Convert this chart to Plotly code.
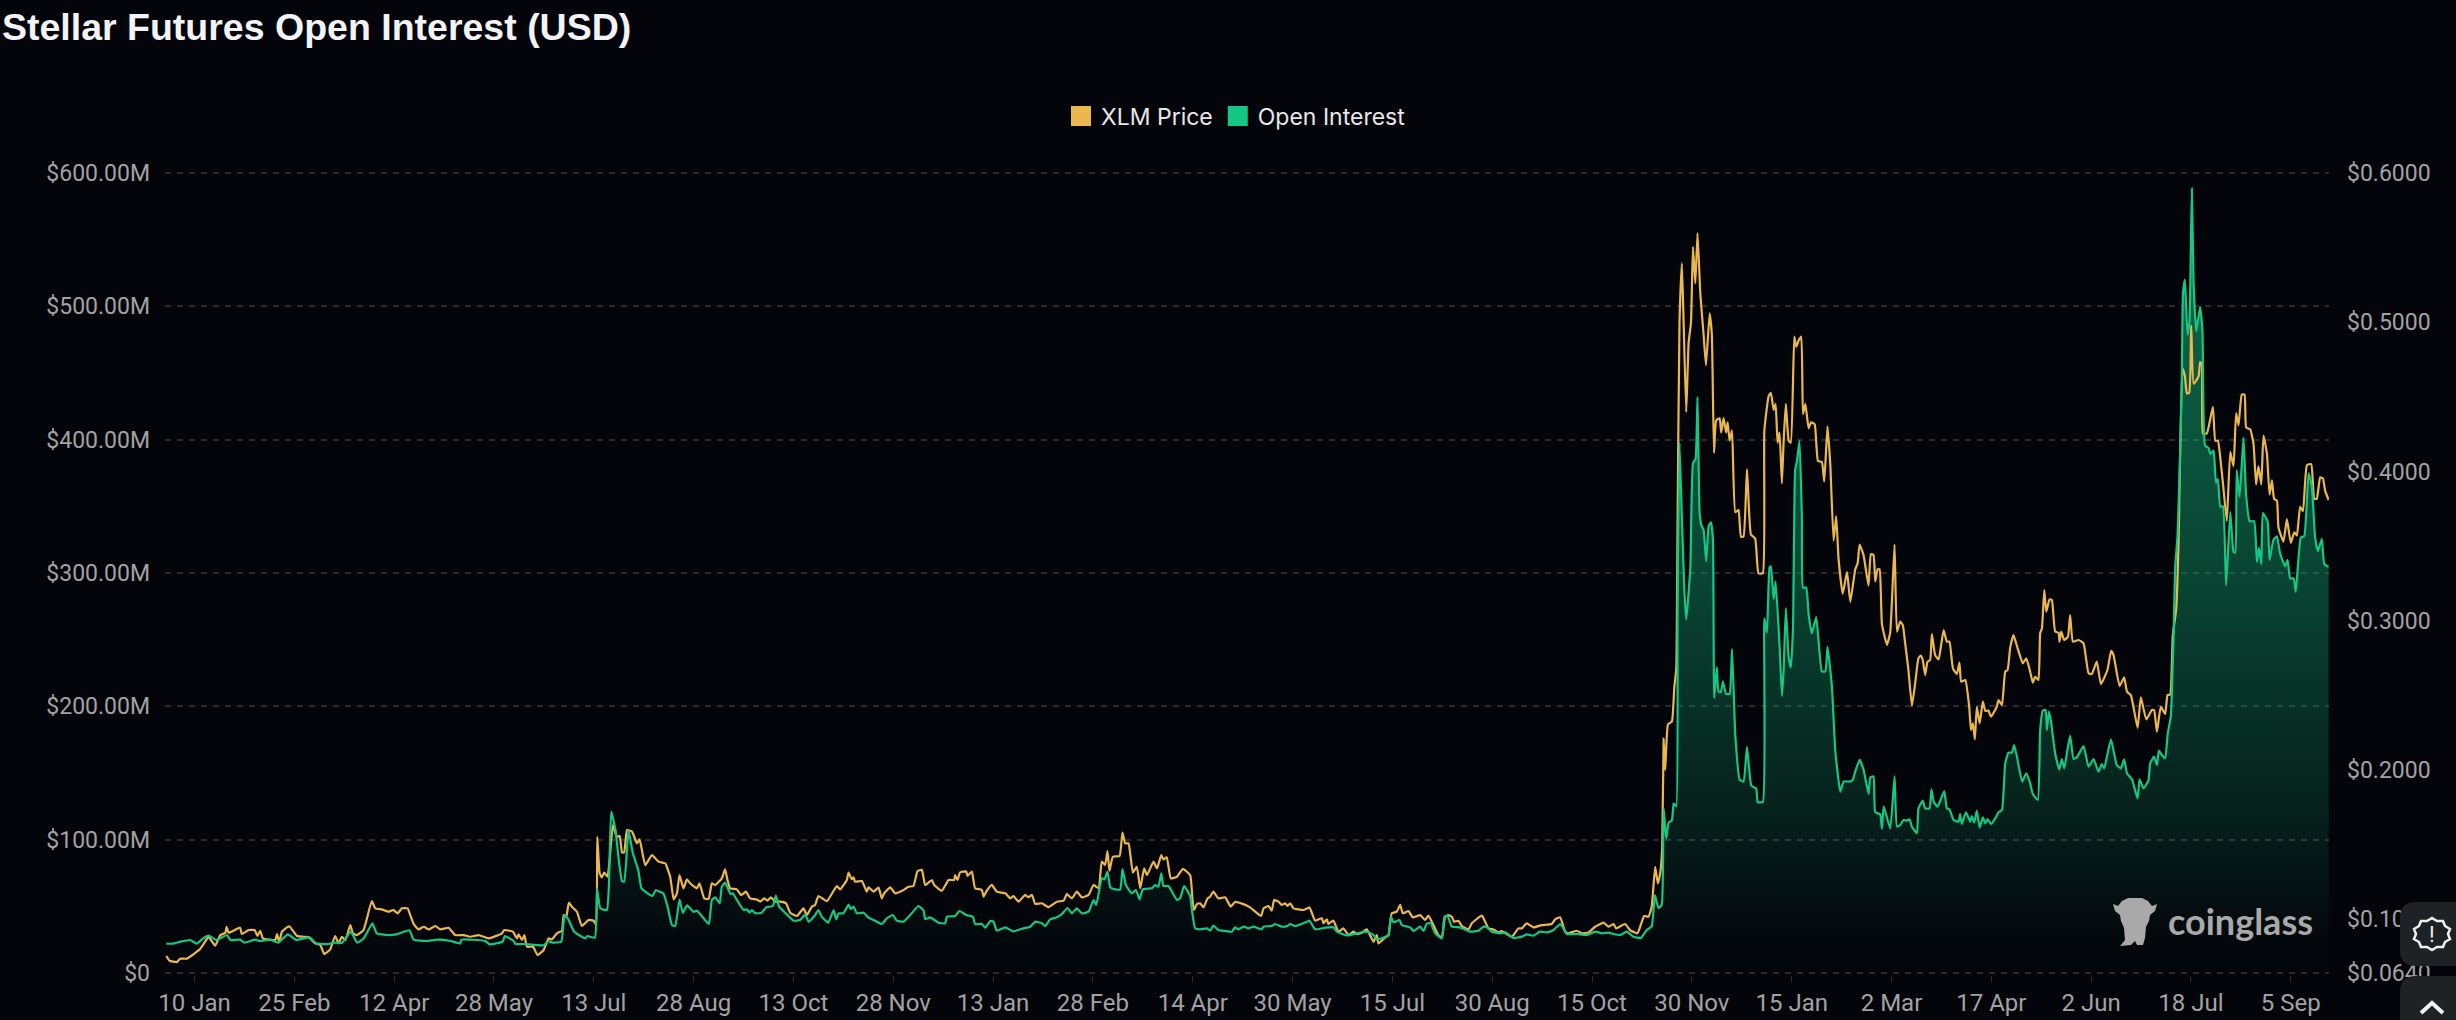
import plotly.graph_objects as go

title_text = "Stellar Futures Open Interest (USD)"
tick_labels = ["10 Jan","25 Feb","12 Apr","28 May","13 Jul","28 Aug","13 Oct","28 Nov","13 Jan","28 Feb","14 Apr",
               "30 May","15 Jul","30 Aug","15 Oct","30 Nov","15 Jan","2 Mar","17 Apr","2 Jun","18 Jul","5 Sep"]
tick_days = [14,60,106,152,198,244,290,336,382,428,474,520,566,612,658,704,750,796,842,888,934,980]
oi_ticks = [0,100,200,300,400,500,600]
oi_tick_text = ["$0","$100.00M","$200.00M","$300.00M","$400.00M","$500.00M","$600.00M"]
price_ticks = [0.064,0.1,0.2,0.3,0.4,0.5,0.6]
price_tick_text = ["$0.0640","$0.1000","$0.2000","$0.3000","$0.4000","$0.5000","$0.6000"]

# (day index, open interest in $M)
oi_points = [(1,22),(4,22),(7.5,23.5),(12,24.75),(15,22),(18,26),(20.5,28),(24,24.75),(29,28.5),(30.5,24.75),(35,25),(37,22.75),(42,25),(44,24),(49,25),(52.5,22.75),(57,29),(61,24.75),(67,26.75),(70,22.25),(76,21.75),(78,22.75),(82,22.75),(86,31),(89,22.75),(92,26),(96,37.25),(98,29.75),(103,28.5),(107,29),(113,32),(115,25),(121,24),(126,25),(132,24),(136.5,22.25),(137,25),(148,24),(150,21.5),(156,23.5),(157,27.75),(161,24),(162,21.75),(166,21.75),(175,20.75),(177,24),(179,22.75),(183,23.5),(184.5,43.5),(186,41),(189,31),(194,26),(195,27.75),(198.5,26.5),(199.5,63.5),(201,48.5),(204,47.25),(205,67.25),(206,121),(208,107.25),(209.5,84.75),(211,69),(212,68.5),(214,106.75),(216,89.75),(218.5,77.25),(220,63.5),(225,57.75),(226.5,62),(230,59.75),(232,49.75),(234,36),(235.5,35.25),(237.5,55),
(239,45.25),(241,50.75),(244,45.75),(245.5,46.75),(248,42.25),(251,36.75),(252.4,54.75),(254,56.75),(256,52.25),(257,64.75),(258.5,67.75),(261,59.25),(262,59.75),(264.7,52.75),(267,47.25),(268.5,47.75),(269.8,45.25),(270.8,47.25),(272.4,44.75),(275.4,45.25),(277.4,49.25),(280.5,50.25),(281.9,58),(283.4,49.75),(287.7,42.75),(290,39.25),(293,39.75),(295.4,43.75),(297,38.5),(300,43.5),(301.5,47.25),(303,42.25),(306,37.75),(308.5,47.25),(309.7,40.25),(310.8,44.75),(313,44.75),(315.4,51.25),(316.4,48),(317.7,49.75),(319.2,44.75),(322.3,45.25),(324.6,41.5),(326.9,39.75),(330.7,36.75),(333,41),(335.8,43.5),(337.6,39.25),(340.7,38.5),(343.8,43.5),(347.6,50.25),(350,46.75),(350.7,40.5),(353,41.75),(356.8,37.75),(359.9,37.25),(360.7,42.25),(364.5,42.75),(366.5,46.5),(369.6,43.5),(372.7,42.25),(373.7,36.75),(376.8,36.75),(378.4,34),(380.7,39),(382.2,38.5),(383.7,31.75),(387.6,34.25),(391.4,31.25),(396,33.5),(399.1,34.75),(401.4,38.5),(404.5,37.25),(406,35.25),(408.3,40.25),(411.4,41.75),(413.7,44.25),(416.3,48.75),(418.3,44.75),(420.6,48.5),(422.9,44.75),(426,46),(428.3,54.75),(429.5,51),(432.1,71),(433.3,70.25),(434.7,76),(436,64.25),(438.3,62.75),(440.6,62.75),(441.6,78),(443.2,66),(445.9,59.75),(447.8,62.25),(449.5,55.25),(451,62.75),(455.2,63.5),(456.7,66),(458.2,64.75),(459.5,74.75),(460.5,65.25),(462.8,65.25),(466.7,54.75),(468.2,56),(470,65.25),(472.8,57.75),(473.6,47.25),(475.1,33.5),
(477.4,32.75),(480.5,33.5),(482,31.75),(483.5,35.5),(485.8,32.25),(488.9,31.5),(492,31),(493.5,34.25),(495,32.75),(497.4,34.75),(499.7,33.5),(502,34.75),(505.8,32.75),(506.6,34.75),(510.4,35.25),(512,36.75),(515,34.75),(517.6,35.25),(518.9,36.75),(521.2,35.25),(526.6,38.5),(527.8,39.25),(530.4,32.75),(535,34),(538.8,34.25),(540.4,31),(545,28.25),(549.6,29.75),(554.2,31),(557.3,28.5),(558.8,25.25),(561.1,26),(564.2,28.5),(565.3,42.25),(566.5,38),(569.3,39.75),(570.3,36),(574.2,34.25),(575.7,31.5),(578.8,34.75),(580.3,31.5),(581.9,37.25),(583.7,37.25),(585.7,29.75),(588.8,26),(590,42.25),(591.4,43),(593.4,34.75),(597.2,34.25),(601.8,31),(605.7,31.75),(608,34.75),(609.5,34.25),(611.8,31),(615.6,29.75),(618,30.5),(621.8,26.25),(625.6,27.25),(627.9,29),(631,28),(634,31),(637.2,30.5),(640.2,32.25),(643.3,36.75),(644.8,33.5),(646.4,29.25),(651,29.25),(655.6,28.5),(659.4,31),(662.5,29.75),(665.6,30.25),(667.9,29.25),(671,28.5),(674,31),(677.1,27.25),(680.5,26.25),(683.2,32.25),(685.5,35),(687,58.5),(688.6,48.75),(690.1,51),
(691,123.7),(692.2,100.7),(693.3,112.9),(694.8,114.5),(695.6,127.3),(696.8,125),(697.4,273.6),(698.3,397.6),(699.4,341),(700.5,289),(701.4,265),(703.3,304.2),(704.5,382.3),(705.7,385.4),(706.6,431.9),(707.6,344),(708.6,334.9),(709.4,332.4),(710.6,308.8),(711.7,334.9),(712.8,338),(713.7,325.7),(714.3,206.3),(715.5,229.2),(716.3,210.9),(717.4,210.9),(718.3,218.5),(719.8,209.3),(721.4,209.3),(722.5,243),(724,178.8),(726,145.1),(727.8,143.6),(729.4,169.5),(731.4,140.5),(733.7,138.3),(734.3,128.2),(736.7,128.2),(737.4,266),(738.6,255.3),(739.8,304.3),(740.4,304.9),(741.7,280.4),(742.6,293.5),(744.4,246),(745.5,207.8),(746.3,227.7),(747.3,273.6),(748.6,237),(749.6,229.2),(750.6,258.4),(751.6,377.7),(752.4,383.8),(753.6,399.2),(754.7,341),(755.2,289),(756.7,289),(757.8,269),(759.3,254.7),(761.3,267),(763.9,226.2),(765.5,226.2),(766.5,244.6),(768.5,215.5),(770.1,166.5),(772.4,135.9),(773.9,143.6),(777,143.6),(778.2,145.1),(779.3,151.2),(781.3,159.8),(783.1,152.7),(785.4,134.4),(786.2,146.6),(787.7,147.5),(788.5,120.6),(790.8,119),(791.6,108.3),(792.4,125),(795.4,108.3),(797.4,147.5),(798.5,109.9),
(800,111),(801.5,114.75),(803,114.25),(804.3,115.25),(805.4,109.75),(807.7,104.75),(808.4,123.5),(810.4,129.25),(811.5,123.5),(813.5,123.5),(814.4,137.75),(815.4,128.5),(817.2,124.75),(820.3,136.5),(821.5,123.5),(822.7,122.75),(824.6,114.75),(826.9,113.5),(827.6,119.25),(828.4,111.75),(830.3,120.5),(832.3,113.5),(833,117.75),(834.1,112.75),(835.3,121.75),(836.6,109),(838.1,116.75),(839.2,112.25),(840.2,115.5),(841.8,111.75),(843.8,116),(845.3,120.5),(846.9,122.25),(848.4,157.25),(849.9,165.25),(851.5,165.25),(852.5,171),(853.8,162.25),(856.2,143.5),(858.1,149.75),(859.9,142.25),(861.1,134.25),(863.4,129.75),(864.5,182.25),(865.7,196.75),(867,197.25),(867.6,182.25),(868.5,196),(869.4,189.75),(871.4,164.75),(873.3,152.75),(874.5,160.5),(875.6,153.5),(876.8,164.75),(878.3,178),(879.9,160.5),(881.4,161.75),(884.5,170.25),(886.8,154.75),(889.1,160.5),(891.4,151),(892.9,156.75),(894,153.5),(897.1,175.25),(899.8,156),(901.7,153.5),(903.2,160.25),(904.5,149.75),(906.8,145.25),(909.4,131),(910.3,145.25),(912.1,138.5),(914.4,144.25),(915.2,157.25),(917,162.25),(918.3,156),(919.2,166.75),(920.6,163.5),(922.1,161),(923.3,179.75),(924.7,192.25),(926,253.5),
(926.7,303.6),(927.8,328.1),(929,389.3),(929.8,450.6),(930.3,508.7),(931.2,520),(932.4,478.8),(933.3,488.8),(934.4,588.3),(935.2,517.9),(936.4,481.2),(938.2,499.6),(939.3,481.2),(940.5,395.5),(942.1,393.9),(942.9,389.3),(944.4,391.8),(945.5,367.9),(946.4,370.4),(947.5,349.6),(948.7,350.2),(950.2,290.8),(952.1,345.9),(953.6,315.9),(954.4,315.3),(955.1,377.1),(956.4,357.2),(958.2,401.6),(959.4,358.7),(961,338.8),(963.1,338.8),(964.4,308.2),(965.3,318.9),(966.4,306.7),(967.1,344.9),(969.3,338.8),(970.2,309.8),(972,325),(973.6,327.5),(975.1,314.4),(977.4,305.2),(978.5,309.8),(979.7,296),(981.3,296),(982.3,285.9),(984.6,326.6),(986.2,327.5),(988.2,374.7),(989.7,364.9),(991.2,326.6),(992.5,316.5),(994.3,325.7),(995.4,306.7),(997.4,304.6)]

# (day index, XLM price in $)
price_points = [(1,.0754),(2.5,.0722),(5.9,.0713),(7.4,.0736),(10.5,.0736),(13.6,.0767),(16.6,.0801),(18.9,.085),(20.5,.0883),(23.5,.0823),(25.9,.0894),(28.2,.091),(28.8,.095),(29.7,.091),(35,.0944),(35.8,.0901),(38.9,.0928),(41.7,.0928),(43,.0888),(44.3,.0923),(45.5,.0872),(51.2,.0861),(52,.0901),(53,.085),(54.3,.0917),(56.6,.0946),(57.8,.0952),(61.2,.0888),(64.3,.0883),(66.6,.0879),(69.6,.0839),(72,.0827),(73.8,.0767),(76.5,.0798),(78.8,.0888),(80.4,.0839),(81.9,.0883),(83.5,.0861),(85.8,.0961),(87,.0906),(88.8,.0894),(91.9,.0928),(95.7,.1122),(97.3,.1073),(100.3,.1066),(103.4,.1051),(105.7,.1062),(107.6,.104),(109.6,.1073),(112.2,.1073),(113.4,.1028),(115,.0968),(117.2,.0932),(119.6,.095),(121.9,.0932),(125,.0955),(127.2,.0932),(131.1,.0943),(134.1,.0894),(138,.0894),(141,.0883),(144.9,.0894),(149.5,.0872),(155.7,.0906),(156.7,.0928),(160.7,.0917),(162.6,.0872),(163.3,.0899),(164.9,.0861),(166,.0894),(167.2,.0816),(170,.0816),(172.1,.076),(174.9,.0794),(177.2,.0872),(178.7,.0865),(181,.0906),(183.3,.0923),(184.1,.1028),(185.3,.1017),(186.5,.1111),(187.9,.1084),(190.2,.1051),(192.5,.0955),(195.6,.0995),(197.9,.099),(199.1,.0961),(199.6,.1553),(200.7,.1308),(201.7,.1281),(202.8,.1312),(204.3,.1285),(205.3,.1397),(206.8,.1631),(208.6,.1553),(209.9,.1558),(211,.1448),(212,.1448),(213.3,.1598),(215.6,.1587),(217.9,.1509),(219.1,.1535),(221.7,.1363),(224.8,.143),(227.8,.1386),(230.9,.1375),(233.2,.1285),(234.8,.1133),(236.3,.1173),(237.5,.1296),
(239.3,.1207),(240.9,.1267),(242.4,.1241),(245.5,.1207),(246.7,.1241),(248.9,.114),(250.9,.1136),(252.4,.1241),(253.9,.1229),(257,.1274),(258.5,.1334),(259.6,.1263),(260.8,.1207),(263.9,.12),(265.9,.1162),(268.1,.1185),(270,.114),(273.1,.1133),(274.7,.1118),(276.5,.114),(278,.1125),(279.6,.1147),(281.6,.1118),(283.9,.1118),(286.6,.1107),(288.5,.1044),(291.6,.1022),(294.6,.1073),(296.2,.1029),(298.5,.1085),(300,.1096),(301.5,.1156),(305.4,.1122),(310,.1223),(311.5,.12),(314.6,.1263),(315.4,.1312),(316.9,.1268),(317.7,.1281),(318.4,.1252),(321.5,.1256),(323.8,.1185),(324.6,.1214),(326.9,.1185),(329.2,.1212),(330.7,.114),(331.8,.1174),(334.6,.1214),(336.9,.1174),(340.7,.1196),(343,.1218),(345.3,.1223),(347.2,.1323),(349.2,.133),(350.7,.1229),(353.8,.1263),(354.9,.1229),(358.4,.1191),(361.5,.1263),(364.1,.1263),(364.5,.1296),(365.6,.1263),(366.8,.1315),(369.6,.132),(370.2,.1291),(372.2,.132),(373.7,.1208),(376.8,.1197),(377.6,.1152),(379.1,.1192),(381.4,.123),(383.7,.1185),(387.6,.1174),(389.9,.114),(391.4,.1156),(393.7,.1118),(396.8,.1163),(398.3,.1147),(399.9,.1163),(401.4,.1103),(404.5,.1107),(407.5,.1081),(411.4,.1118),(414.5,.1125),(416,.1168),(418.3,.114),(420.6,.1185),(422.9,.1147),(426,.1163),(428.3,.123),(430.6,.1208),(432.1,.1386),(433.6,.1364),(434.7,.1457),(435.6,.1326),(437.2,.1419),(440.3,.1424),(441.6,.158),(442.9,.1509),(444.4,.1509),(446.4,.1313),(448.2,.1352),(449.8,.1207),(451.6,.1341),(452.9,.1296),(455.9,.1386),(457.5,.1341),(459.5,.143),(460.5,.1401),(462,.1415),(463.9,.1274),(466.7,.1285),(469.4,.1337),(472.8,.1296),(473.9,.1129),(474.6,.1062),(475.9,.1102),
(477.4,.1107),(479,.108),(480.8,.114),(482,.1151),(483.5,.1185),(485.8,.114),(488.9,.1147),(491.5,.1085),(493.5,.1116),(497,.1103),(500.4,.108),(505.5,.1022),(506.6,.1073),(508.9,.1089),(510.4,.1058),(511.5,.1129),(513.5,.1118),(515,.1096),(516.6,.1107),(517.6,.1089),(518.9,.1107),(520.4,.1073),(525,.1062),(527.8,.1078),(530.4,.0991),(533.5,.1007),(534.2,.0973),(535.8,.1),(536.5,.0969),(538.8,.0991),(541.1,.0917),(543.4,.0939),(545.8,.0894),(548,.0917),(549.6,.0901),(551.9,.091),(554.2,.0932),(557.3,.0849),(558.8,.0894),(559.6,.0838),(562.7,.0879),(564.2,.0894),(565.7,.104),(568,.1051),(569.6,.1096),(570.8,.104),(573.4,.1055),(575.4,.1013),(578.8,.1028),(581,.0995),(582.6,.1024),(584.9,.0961),(587.2,.0894),(588.8,.0877),(590.3,.1017),(591.8,.1028),(593.4,.1017),(594.4,.0984),(596.4,.099),(598,.0955),(601,.0932),(602.6,.0973),(607.2,.1024),(610.3,.0939),(612.6,.0932),(614.9,.0912),(616.4,.0921),(621,.0883),(624.1,.0939),(625.6,.0939),(627.9,.0973),(631,.0946),(634.8,.0961),(639.4,.0968),(641,.1),(643.3,.1013),(645.6,.0917),(647.1,.0906),(651,.0923),(653.3,.0906),(656.4,.0912),(659.4,.095),(663.3,.0977),(665.6,.095),(667.9,.0968),(669.1,.0939),(673.2,.0968),(675.5,.0928),(678.9,.0906),(682,.1022),(684,.1017),(685.5,.1084),(687.1,.1352),(688.3,.1241),(689.4,.1308),(690.3,.1464),
(691,.221),(691.7,.2),(693,.2306),(694.8,.2325),(695.9,.2552),(696.8,.2675),(697.4,.3632),(698.3,.5),(699.4,.5396),(700.2,.5),(701.4,.4398),(702.5,.4863),(703.6,.5),(704.5,.5506),(705.6,.526),(706.6,.5596),(707.9,.5191),(709.4,.4918),(710.5,.4713),(712.2,.506),(713.2,.4918),(714.2,.4125),(715.2,.4343),(716.8,.4357),(717.5,.4261),(718.6,.4357),(719.8,.4261),(720.5,.433),(721.4,.4207),(722.5,.4275),(724,.3728),(725.5,.3742),(726.6,.3564),(727.8,.3564),(729.4,.4015),(731.2,.3578),(733.2,.355),(734.7,.3318),(736.7,.3318),(737.4,.4275),(739.4,.4507),(740.4,.4527),(741.7,.4412),(742.6,.4453),(743.5,.4193),(744.4,.4261),(745.5,.392),(746.3,.4207),(747.3,.4453),(748.6,.4207),(749.6,.4193),(751.2,.4904),(752.1,.4836),(753.2,.4877),(754.4,.4904),(755.2,.4384),(756.3,.4453),(757.8,.4289),(758.9,.433),(760.6,.4316),(762.1,.407),(763.9,.4064),(765,.3933),(766.5,.4302),(767.8,.4043),(769.3,.3537),(770.5,.3701),(771.6,.3414),(773.5,.3181),(775.5,.3326),(777,.3127),(779.3,.3345),(780.4,.3386),(781.3,.351),(783.1,.3441),(785.4,.3236),(786.5,.3446),(787.7,.3441),(788.5,.3263),(789.6,.3345),(790.5,.3345),(791.6,.2976),(793.9,.2839),(795.4,.2921),(797.4,.351),(798.5,.2927),
(800,.2994),(801.2,.2971),(802.3,.2849),(803.8,.267),(805.4,.2429),(806.9,.2581),(808.4,.2748),(809.5,.2766),(810.4,.2737),(811.5,.2636),(812.6,.2726),(813.8,.2737),(814.6,.2911),(816.1,.277),(817.7,.2741),(820,.2938),(821.5,.286),(822.7,.286),(824.3,.2681),(826.1,.2643),(827.3,.2719),(828.1,.2592),(830,.2603),(831.8,.2424),(832.6,.2268),(833.5,.2313),(834.4,.2205),(835.3,.2424),(836.6,.2313),(838.1,.2458),(839.2,.2397),(840.7,.2397),(841.8,.2357),(844.5,.2424),(845.3,.2469),(846.9,.2435),(848.4,.2659),(849.5,.267),(850.7,.2822),(852.2,.2904),(853.8,.2831),(856.5,.2715),(858.1,.2748),(859.9,.2659),(861.1,.2585),(862.2,.2625),(863.7,.2603),(864.5,.2916),(865.3,.2949),(866.4,.3206),(867.3,.3061),(868.8,.3143),(869.9,.3139),(871.4,.2927),(873,.292),(873.4,.286),(874.2,.2927),(875.6,.2871),(877.3,.2893),(878.3,.3038),(879.6,.286),(882.2,.2871),(884.5,.2849),(886.8,.2648),(888.3,.2643),(890.6,.2726),(892.5,.2576),(895.5,.267),(897.2,.2799),(898.3,.277),(901.1,.2563),(903.2,.2621),(904.5,.2525),(906.3,.2502),(909.4,.2283),(910.9,.2487),(913.4,.2339),(916,.2402),(917,.2402),(918.3,.2257),(920.1,.2424),(922.1,.2375),(923.2,.2502),(924.4,.2505),
(925.6,.2901),(927.2,.3079),(928.3,.3544),(929,.4118),(930.1,.4692),(931.2,.4638),(932.1,.4523),(933.2,.4528),(934.1,.498),(935.2,.4588),(937.5,.4638),(938.2,.4733),(939,.472),(939.5,.4255),(941.3,.4255),(944.1,.4433),(945.2,.4206),(946.4,.4206),(947.8,.405),(948.7,.3927),(950.5,.3667),(952.1,.4132),(953.6,.4036),(954.8,.4392),(955.9,.431),(957.4,.4515),(958.7,.4515),(959.4,.4296),(961.3,.4282),(962.8,.4187),(964,.3913),(965.1,.4036),(966.4,.3913),(967.4,.4241),(969,.4118),(970.2,.3845),(971.3,.394),(972.3,.3817),(973.6,.3804),(974.3,.3626),(976.6,.353),(978.2,.3681),(980,.3522),(981.6,.3593),(982.8,.3571),(984.3,.3763),(985.6,.3735),(987.4,.4042),(989.4,.405),(990.8,.3817),(992,.3817),(993.5,.396),(994.8,.3954),(995.8,.3872),(997.4,.3809)]

BG = "#03050B"
GOLD = "#EAB84F"
GREEN = "#16C784"
MUTED = "#A2A2A2"
GRID = "#2A2C30"
W, H = 2456, 1020
# plot box extends 2px beyond the $0 and $600M lines so that both gridlines are drawn
L, R, T, B = 165, 2329, 171, 975
OI_RANGE = [-1.5, 601.5]
PRICE_RANGE = [0.06266, 0.60134]

def X(px): return (px - L) / (R - L)
def Y(py): return (B - py) / (B - T)
def P(*pts): return " ".join(f"{c}{X(x):.5f},{Y(y):.5f}" for c, x, y in pts)

def rrect(x0, y0, x1, y1, r):
    return (f"M{X(x0+r):.5f},{Y(y0):.5f} L{X(x1):.5f},{Y(y0):.5f} L{X(x1):.5f},{Y(y1):.5f} "
            f"L{X(x0+r):.5f},{Y(y1):.5f} Q{X(x0):.5f},{Y(y1):.5f} {X(x0):.5f},{Y(y1-r):.5f} "
            f"L{X(x0):.5f},{Y(y0+r):.5f} Q{X(x0):.5f},{Y(y0):.5f} {X(x0+r):.5f},{Y(y0):.5f} Z")

oi_x = [p[0] for p in oi_points]
oi_y = [p[1] for p in oi_points]
price_x = [p[0] for p in price_points]
price_y = [p[1] for p in price_points]

fig = go.Figure()
fig.add_trace(go.Scatter(x=oi_x, y=oi_y, yaxis="y", mode="lines", line=dict(color="rgba(0,0,0,0)", width=0, shape="spline", smoothing=0.4),
    fill="tozeroy",
    fillgradient=dict(type="vertical", start=0, stop=600,
        colorscale=[[0, "rgba(22,199,132,0.0)"], [0.05, "rgba(22,199,132,0.02)"], [0.2, "rgba(22,199,132,0.14)"], [0.5, "rgba(22,199,132,0.33)"], [1, "rgba(22,199,132,0.55)"]]),
    showlegend=False, hoverinfo="skip"))
fig.add_trace(go.Scatter(x=price_x, y=price_y, yaxis="y2", mode="lines", line=dict(color=GOLD, width=2.2, shape="spline", smoothing=0.4), showlegend=False, name="XLM Price"))
fig.add_trace(go.Scatter(x=oi_x, y=oi_y, yaxis="y3", mode="lines", line=dict(color=GREEN, width=2.2, shape="spline", smoothing=0.4), showlegend=False, name="Open Interest"))
for nm, col in (("XLM Price", GOLD), ("Open Interest", GREEN)):
    fig.add_trace(go.Scatter(x=[None], y=[None], mode="markers", name=nm,
        marker=dict(symbol="square", size=16, color=col, line=dict(color=col, width=4))))

shapes = [
    dict(type="path", xref="paper", yref="paper", layer="above", line=dict(width=0), fillcolor="#1E2225", path=rrect(2400, 902, 2470, 966, 16)),
    dict(type="path", xref="paper", yref="paper", layer="above", line=dict(width=0), fillcolor="#1E2225", path=rrect(2400, 976, 2470, 1040, 16)),
    # chevron
    dict(type="path", xref="paper", yref="paper", layer="above", line=dict(width=4, color="#F0F0F0"), path=P(("M",2421,1013),("L",2432,1003),("L",2443,1013))),
    # badge
    dict(type="path", xref="paper", yref="paper", layer="above", line=dict(width=2.5, color="#F0F0F0"),
         path=P(("M",2432,918),("L",2437,921),("L",2443,921),("L",2445,926),("L",2450,929),("L",2448,934),("L",2450,939),("L",2445,942),("L",2443,947),("L",2437,947),("L",2432,950),("L",2427,947),("L",2421,947),("L",2419,942),("L",2414,939),("L",2416,934),("L",2414,929),("L",2419,926),("L",2421,921),("L",2427,921)) + " Z"),
    # watermark mascot
    dict(type="path", xref="paper", yref="paper", layer="above", line=dict(width=0), fillcolor="#A9A9A9",
         path=P(("M",2113,904),("L",2118,906),("L",2122,901),("L",2128,898),("L",2142,898),("L",2148,901),("L",2152,906),("L",2157,904),("L",2155,911),("L",2150,915),("L",2149,921),("L",2146,927),("L",2145,938),("L",2143,945),("L",2137,945),("L",2135,941),("L",2131,945),("L",2120,946),("L",2125,940),("L",2124,928),("L",2121,921),("L",2120,915),("L",2115,911)) + " Z"),
]

annotations = [
    dict(text="!", x=X(2432), y=Y(934), xref="paper", yref="paper", xanchor="center", yanchor="middle", showarrow=False, font=dict(family="Roboto", size=22, color="#F0F0F0")),
    dict(text="<b>coinglass</b>", x=X(2240), y=Y(921), xref="paper", yref="paper", xanchor="center", yanchor="middle", showarrow=False, font=dict(family="Lato", size=36, color="#A9A9A9")),
]

fig.update_layout(
    width=W, height=H, autosize=False,
    margin=dict(l=L, r=W-R, t=T, b=H-B, pad=0, autoexpand=False),
    paper_bgcolor=BG, plot_bgcolor=BG,
    title=dict(text=f"<b>{title_text}</b>", x=2/W, xref="container", xanchor="left", y=1-27/H, yref="container", yanchor="middle", automargin=False,
               font=dict(family="Liberation Sans", size=37.5, color="#F2F3F5")),
    legend=dict(orientation="h", x=X(1236), xref="paper", xanchor="center", y=Y(116), yanchor="middle",
                font=dict(family="Inter", size=23, color="#E8E8E8"), bgcolor="rgba(0,0,0,0)", itemclick=False),
    xaxis=dict(range=[0.4, 997.6], tickmode="array", tickvals=tick_days, ticktext=tick_labels, showgrid=False, zeroline=False, automargin=False,
               ticks="outside", ticklen=6, tickwidth=1, tickcolor="#2A2C30", showline=False,
               tickfont=dict(family="Roboto", size=24, color=MUTED)),
    yaxis=dict(range=OI_RANGE, tickmode="array", tickvals=oi_ticks, ticktext=oi_tick_text, showgrid=True, gridcolor=GRID, gridwidth=1.5, griddash="6px,6px",
               zeroline=False, showline=False, automargin=False, tickfont=dict(family="Roboto", size=23, color=MUTED), ticks="", ticklabelstandoff=14),
    yaxis2=dict(range=PRICE_RANGE, overlaying="y", side="right", tickmode="array", tickvals=price_ticks, ticktext=price_tick_text, showgrid=False,
                zeroline=False, showline=False, automargin=False, tickfont=dict(family="Roboto", size=23, color=MUTED), ticks="", ticklabelstandoff=17),
    yaxis3=dict(range=OI_RANGE, overlaying="y", visible=False, automargin=False),
    shapes=shapes, annotations=annotations,
    hovermode=False,
)

fig.write_html("out.html", config=dict(displayModeBar=False),
               post_script="document.body.style.margin='0';document.body.style.background='#03050B';document.body.style.overflow='hidden';")
